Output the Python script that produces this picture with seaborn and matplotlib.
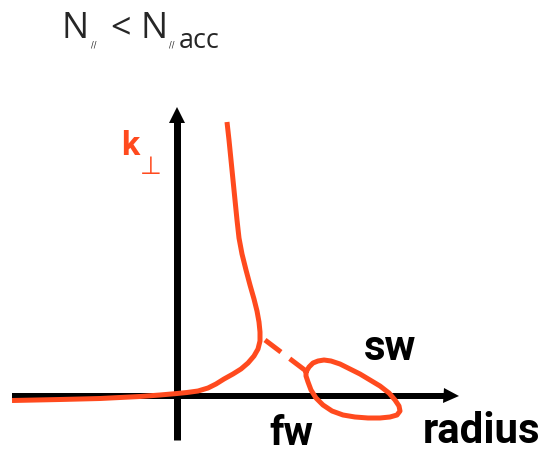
import matplotlib
matplotlib.use("Agg")
import matplotlib.pyplot as plt
import seaborn as sns
import pandas as pd

sns.set_theme(style="white")
plt.rcParams["font.family"] = ["Roboto", "DejaVu Sans"]

# Dispersion sketch: perpendicular wavenumber k_perp versus radius
# (horizontal: radius, vertical: k_perp; origin where the two axes cross)

# fast-wave branch: from the far left, through the origin, up the cutoff
fw_radius = [-1.65, -1.17, -0.77, -0.37, -0.17, 0.00, 0.10, 0.21, 0.31, 0.39,
             0.47, 0.56, 0.64, 0.71, 0.77, 0.81, 0.83, 0.83, 0.82, 0.80,
             0.77, 0.73, 0.69, 0.65, 0.62, 0.60, 0.58, 0.56, 0.54, 0.52,
             0.50]
fw_kperp = [-0.045, -0.035, -0.025, -0.005, 0.01, 0.025, 0.035, 0.05, 0.08, 0.12,
            0.17, 0.22, 0.27, 0.33, 0.40, 0.47, 0.55, 0.64, 0.74, 0.85,
            0.97, 1.11, 1.26, 1.42, 1.58, 1.76, 1.96, 2.16, 2.36, 2.56,
            2.74]

# evanescent link (dashed) between the fast-wave and slow-wave branches
link_radius = [0.88, 1.29]
link_kperp = [0.56, 0.25]

# slow-wave closed loop
sw_radius = [1.29, 1.32, 1.36, 1.41, 1.47, 1.54, 1.63, 1.73, 1.83, 1.93,
             2.03, 2.12, 2.18, 2.22, 2.23, 2.20, 2.13, 2.03, 1.91, 1.78,
             1.66, 1.55, 1.46, 1.39, 1.34, 1.31, 1.29, 1.29]
sw_kperp = [0.24, 0.29, 0.33, 0.35, 0.36, 0.35, 0.32, 0.27, 0.22, 0.16,
            0.10, 0.03, -0.04, -0.10, -0.15, -0.19, -0.21, -0.22, -0.22, -0.21,
            -0.19, -0.15, -0.09, -0.02, 0.06, 0.14, 0.20, 0.24]

# axis extents of the sketch
x_axis_span = (-1.65, 2.81)
y_axis_span = (-0.44, 2.88)

RED = "#FF4A1E"
to_pt = 0.72        # pixels -> points at 100 dpi

fig = plt.figure(figsize=(5.44, 4.54), dpi=100)
ax = fig.add_axes([0, 0, 1, 1])
ax.set_xlim(-1.77, 3.67)
ax.set_ylim(-0.58, 3.96)
ax.axis("off")

# coordinate axes with arrowheads
head = 0.14
ax.plot([x_axis_span[0], x_axis_span[1] - head], [0, 0], color="black",
        lw=6 * to_pt, solid_capstyle="butt", zorder=2)
ax.plot([x_axis_span[1] - head / 2], [0], marker=">", ms=15 * to_pt,
        mew=0, color="black", zorder=2)
ax.plot([0, 0], [y_axis_span[0], y_axis_span[1] - head], color="black",
        lw=7 * to_pt, solid_capstyle="butt", zorder=2)
ax.plot([0], [y_axis_span[1] - head / 2], marker="^", ms=16 * to_pt,
        mew=0, color="black", zorder=2)

lw = 5 * to_pt
fw = pd.DataFrame({"radius": fw_radius, "kperp": fw_kperp})
sns.lineplot(data=fw, x="radius", y="kperp", sort=False, estimator=None,
             color=RED, lw=lw, ax=ax, zorder=3,
             solid_joinstyle="round", solid_capstyle="butt")

link = pd.DataFrame({"radius": link_radius, "kperp": link_kperp})
sns.lineplot(data=link, x="radius", y="kperp", sort=False, estimator=None,
             color=RED, lw=lw, ax=ax, zorder=3, dashes=False)
ax.lines[-1].set_dashes((4.0, 2.2))
ax.lines[-1].set_dash_capstyle("butt")

sw = pd.DataFrame({"radius": sw_radius, "kperp": sw_kperp})
sns.lineplot(data=sw, x="radius", y="kperp", sort=False, estimator=None,
             color=RED, lw=lw, ax=ax, zorder=3,
             solid_joinstyle="round", solid_capstyle="round")

ax.set_xlabel("")
ax.set_ylabel("")

# labels
bold = dict(fontweight="bold", family=["Roboto", "DejaVu Sans"])
ax.text(-0.56, 2.41, "k", color=RED, fontsize=34 * to_pt, ha="left",
        va="baseline", **bold)
ax.text(-0.37, 2.22, "\u22a5", color=RED, fontsize=25 * to_pt, ha="left",
        va="baseline", family=["DejaVu Sans"])
ax.text(1.87, 0.36, "sw", color="black", fontsize=42 * to_pt, ha="left",
        va="baseline", **bold)
ax.text(0.92, -0.49, "fw", color="black", fontsize=40 * to_pt, ha="left",
        va="baseline", **bold)
ax.text(2.46, -0.47, "radius", color="black", fontsize=42 * to_pt, ha="left",
        va="baseline", **bold)

# title: N_par < N_par,acc  (the "parallel" subscript is a small double slash)
title_font = ["Open Sans", "DejaVu Sans"]
par_font = ["DejaVu Sans"]
ax.text(-1.16, 3.58, "N", fontsize=36 * to_pt, family=title_font,
        ha="left", va="baseline")
ax.text(-0.86, 3.48, "//", fontsize=8 * to_pt, family=par_font,
        ha="left", va="baseline")
ax.text(-0.67, 3.58, "<", fontsize=36 * to_pt, family=title_font,
        ha="left", va="baseline")
ax.text(-0.37, 3.58, "N", fontsize=36 * to_pt, family=title_font,
        ha="left", va="baseline")
ax.text(-0.08, 3.48, "//", fontsize=8 * to_pt, family=par_font,
        ha="left", va="baseline")
ax.text(0.02, 3.48, "acc", fontsize=27 * to_pt, family=title_font,
        ha="left", va="baseline")

fig.savefig("out.png", dpi=100)
